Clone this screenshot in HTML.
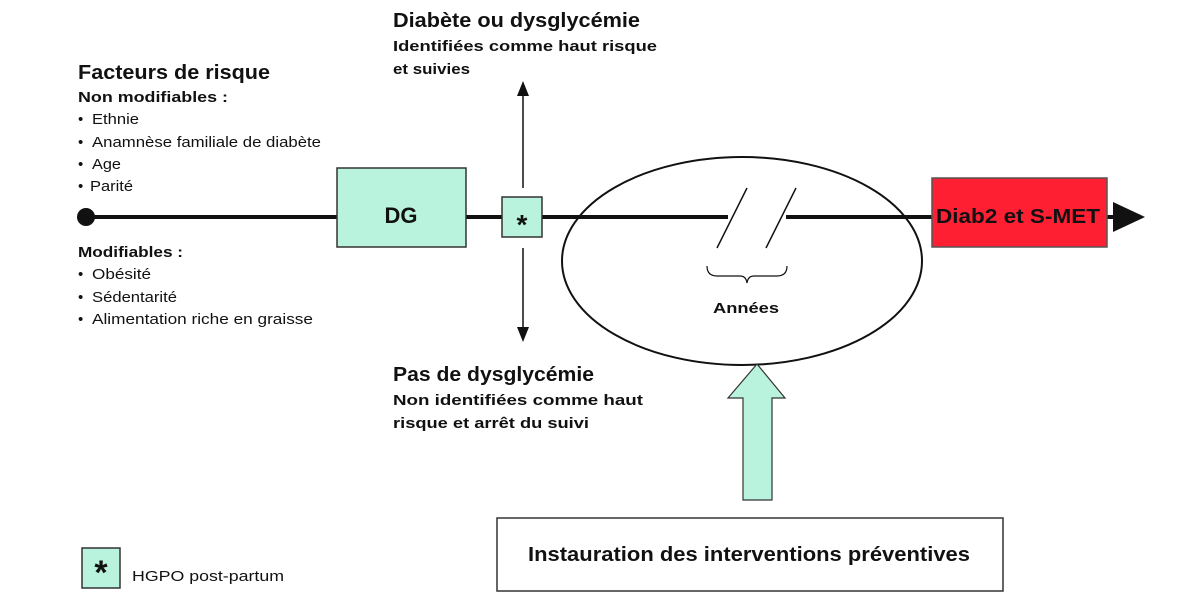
<!DOCTYPE html>
<html><head><meta charset="utf-8"><style>
html,body{margin:0;padding:0;background:#fff;}
svg{display:block;}
text{font-family:"Liberation Sans",sans-serif;fill:#111;}
.b{font-weight:bold;}
</style></head><body>
<svg width="1200" height="602" viewBox="0 0 1200 602" xmlns="http://www.w3.org/2000/svg">
<line x1="86" y1="217" x2="1115" y2="217" stroke="#111" stroke-width="4"/>
<circle cx="86" cy="217" r="9" fill="#111"/>
<rect x="728" y="210" width="58" height="14" fill="#fff"/>
<line x1="717" y1="248" x2="747" y2="188" stroke="#111" stroke-width="1.5"/>
<line x1="766" y1="248" x2="796" y2="188" stroke="#111" stroke-width="1.5"/>
<ellipse cx="742" cy="261" rx="180" ry="104" fill="none" stroke="#111" stroke-width="2"/>
<rect x="337" y="168" width="129" height="79" fill="#b9f3dd" stroke="#333" stroke-width="1.5"/>
<text x="401" y="223" class="b" font-size="22" text-anchor="middle">DG</text>
<line x1="523" y1="92" x2="523" y2="188" stroke="#111" stroke-width="1.5"/>
<polygon points="517,96 529,96 523,81" fill="#111"/>
<line x1="523" y1="248" x2="523" y2="330" stroke="#111" stroke-width="1.5"/>
<polygon points="517,327 529,327 523,342" fill="#111"/>
<rect x="502" y="197" width="40" height="40" fill="#b9f3dd" stroke="#333" stroke-width="1.5"/>
<text x="522" y="234" class="b" font-size="28" text-anchor="middle">*</text>
<rect x="932" y="178" width="175" height="69" fill="#ff1f33" stroke="#555" stroke-width="1.5"/>
<text x="936" y="223" class="b" font-size="20" textLength="164" lengthAdjust="spacingAndGlyphs">Diab2 et S-MET</text>
<polygon points="1113,202 1113,232 1145,217" fill="#111"/>
<path d="M707,266 Q707,276 717,276 L740,276 Q746,276 747,283 Q748,276 754,276 L777,276 Q787,276 787,266" fill="none" stroke="#111" stroke-width="1.2"/>
<text x="746" y="313" class="b" font-size="15" text-anchor="middle" textLength="66" lengthAdjust="spacingAndGlyphs">Années</text>
<polygon points="757,364 785,398 772,398 772,500 743,500 743,398 728,398" fill="#b9f3dd" stroke="#333" stroke-width="1.2"/>
<rect x="497" y="518" width="506" height="73" fill="#fff" stroke="#333" stroke-width="1.5"/>
<text x="528" y="561" class="b" font-size="20" textLength="442" lengthAdjust="spacingAndGlyphs">Instauration des interventions préventives</text>
<rect x="82" y="548" width="38" height="40" fill="#b9f3dd" stroke="#333" stroke-width="1.5"/>
<text x="101" y="584" class="b" font-size="34" text-anchor="middle">*</text>
<text x="132" y="581" font-size="15" textLength="152" lengthAdjust="spacingAndGlyphs">HGPO post-partum</text>
<text x="393" y="27" class="b" font-size="20" textLength="247" lengthAdjust="spacingAndGlyphs">Diabète ou dysglycémie</text>
<text x="393" y="51" class="b" font-size="15" textLength="264" lengthAdjust="spacingAndGlyphs">Identifiées comme haut risque</text>
<text x="393" y="74" class="b" font-size="15" textLength="77" lengthAdjust="spacingAndGlyphs">et suivies</text>
<text x="393" y="381" class="b" font-size="20" textLength="201" lengthAdjust="spacingAndGlyphs">Pas de dysglycémie</text>
<text x="393" y="405" class="b" font-size="15" textLength="250" lengthAdjust="spacingAndGlyphs">Non identifiées comme haut</text>
<text x="393" y="428" class="b" font-size="15" textLength="196" lengthAdjust="spacingAndGlyphs">risque et arrêt du suivi</text>
<text x="78" y="79" class="b" font-size="20" textLength="192" lengthAdjust="spacingAndGlyphs">Facteurs de risque</text>
<text x="78" y="102" class="b" font-size="15" textLength="150" lengthAdjust="spacingAndGlyphs">Non modifiables :</text>
<g font-size="15">
<text x="78" y="124">•</text><text x="92" y="124" textLength="47" lengthAdjust="spacingAndGlyphs">Ethnie</text>
<text x="78" y="147">•</text><text x="92" y="147" textLength="229" lengthAdjust="spacingAndGlyphs">Anamnèse familiale de diabète</text>
<text x="78" y="169">•</text><text x="92" y="169" textLength="29" lengthAdjust="spacingAndGlyphs">Age</text>
<text x="78" y="191">•</text><text x="90" y="191" textLength="43" lengthAdjust="spacingAndGlyphs">Parité</text>
</g>
<text x="78" y="257" class="b" font-size="15" textLength="105" lengthAdjust="spacingAndGlyphs">Modifiables :</text>
<g font-size="15">
<text x="78" y="279">•</text><text x="92" y="279" textLength="59" lengthAdjust="spacingAndGlyphs">Obésité</text>
<text x="78" y="302">•</text><text x="92" y="302" textLength="85" lengthAdjust="spacingAndGlyphs">Sédentarité</text>
<text x="78" y="324">•</text><text x="92" y="324" textLength="221" lengthAdjust="spacingAndGlyphs">Alimentation riche en graisse</text>
</g>
</svg>
</body></html>
